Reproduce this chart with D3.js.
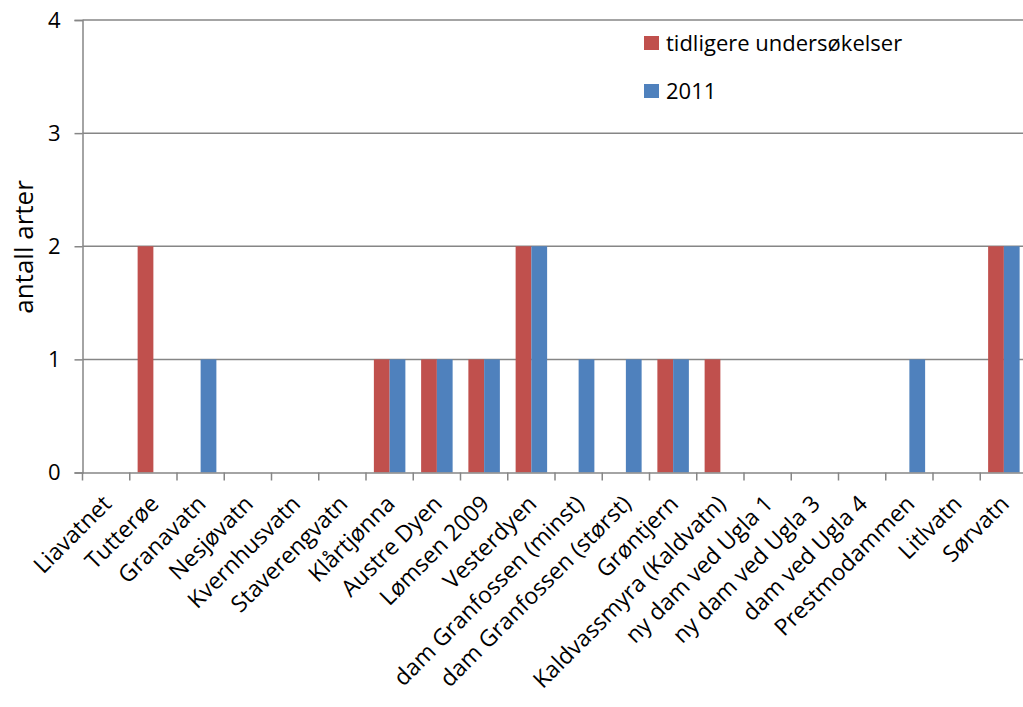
<!DOCTYPE html>
<html><head><meta charset="utf-8">
<script src="https://cdn.jsdelivr.net/npm/d3@7"></script>
<style>body{margin:0;background:#fff;}svg{display:block;font-family:"Open Sans",sans-serif;}</style>
</head><body>
<svg id="c" width="1023" height="707"></svg>
<script>
const categories = ["Liavatnet","Tutterøe","Granavatn","Nesjøvatn","Kvernhusvatn","Staverengvatn","Klårtjønna","Austre Dyen","Lømsen 2009","Vesterdyen","dam Granfossen (minst)","dam Granfossen (størst)","Grøntjern","Kaldvassmyra (Kaldvatn)","ny dam ved Ugla 1","ny dam ved Ugla 3","dam ved Ugla 4","Prestmodammen","Litlvatn","Sørvatn"];
const tidligere = [0,2,0,0,0,0,1,1,1,2,0,0,1,1,0,0,0,0,0,2];
const y2011 = [0,0,1,0,0,0,1,1,1,2,1,1,1,0,0,0,0,1,0,2];
const seriesNames = ["tidligere undersøkelser","2011"];
const seriesColors = ["#C0504D","#4F81BD"];
const yTicks = [0,1,2,3,4];

const svg = d3.select("#c");
const pLeft = 82.5, pRight = 1027.5, pTop = 20, pBottom = 472.5;
const x = d3.scaleBand().domain(categories).range([pLeft, pRight]).paddingInner(0).paddingOuter(0);
const y = d3.scaleLinear().domain([0,4]).range([pBottom, pTop]);
const sub = d3.scaleBand().domain([0,1]).range([0, x.bandwidth()]).paddingInner(0).paddingOuter(0.5);

// gridlines
svg.append("g").selectAll("line").data(yTicks.filter(d=>d>0)).join("line")
  .attr("x1", pLeft).attr("x2", pRight).attr("y1", d=>y(d)).attr("y2", d=>y(d))
  .attr("stroke","#868686").attr("stroke-width",1.5);

// bars
const data = categories.map((c,i)=>({c, vals:[tidligere[i], y2011[i]]}));
const gb = svg.append("g");
data.forEach(d=>{
  d.vals.forEach((v,k)=>{
    if (v>0) gb.append("rect").attr("x", x(d.c)+sub(k)).attr("width", sub.bandwidth())
      .attr("y", y(v)).attr("height", y(0)-y(v)).attr("fill", seriesColors[k]);
  });
});

// y axis
const ya = svg.append("g").attr("transform",`translate(${pLeft},0)`)
  .call(d3.axisLeft(y).tickValues(yTicks).tickSize(8).tickPadding(14).tickFormat(d3.format("d")));
ya.select(".domain").attr("stroke","#868686").attr("stroke-width",1.5);
ya.selectAll(".tick line").attr("stroke","#868686").attr("stroke-width",1.5);
ya.selectAll(".tick text").attr("font-size",22).attr("fill","#000").attr("font-family","Open Sans");

// x axis
const xa = svg.append("g").attr("transform",`translate(0,${pBottom})`)
  .call(d3.axisBottom(x).tickSize(0).tickFormat(""));
xa.select(".domain").attr("stroke","#868686").attr("stroke-width",1.5);
const xt = svg.append("g");
categories.forEach((c,i)=>{
  const bx = x(c);
  xt.append("line").attr("x1",bx).attr("x2",bx).attr("y1",pBottom).attr("y2",pBottom+8)
    .attr("stroke","#868686").attr("stroke-width",1.5);
});
// category labels
svg.append("g").selectAll("text").data(categories).join("text")
  .attr("transform", d=>`translate(${x(d)+x.bandwidth()/2+1},${pBottom+27}) rotate(-45)`)
  .attr("text-anchor","end").attr("dy","0.35em")
  .attr("font-size",23).attr("fill","#000")
  .text(d=>d);

// y title
svg.append("text").attr("transform","translate(33,247) rotate(-90)")
  .attr("text-anchor","middle").attr("font-size",26).attr("fill","#000").text("antall arter");

// legend
const lg = svg.append("g");
seriesNames.forEach((n,k)=>{
  const ly = 42 + k*48;
  lg.append("rect").attr("x",644).attr("y",ly-6).attr("width",15).attr("height",14).attr("fill",seriesColors[k]);
  lg.append("text").attr("x",666).attr("y",ly+1).attr("dy","0.35em").attr("font-size",22).attr("fill","#000").text(n);
});
</script>
</body></html>
